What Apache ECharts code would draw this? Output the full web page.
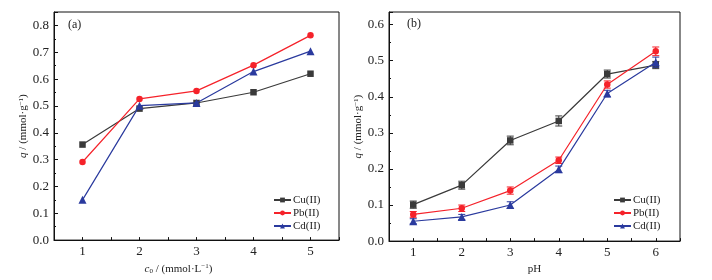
<!DOCTYPE html>
<html lang="en">
<head>
<meta charset="utf-8" />
<script src="https://cdn.jsdelivr.net/npm/echarts@6/dist/echarts.min.js"></script>
<title>q vs c0 / pH</title>
<style>
  html, body { margin: 0; padding: 0; background: #fff; }
  #main { width: 712px; height: 280px; }
</style>
</head>
<body>
<div id="main"></div>
<script>
// (a) 初始浓度
var conc = [1, 2, 3, 4, 5];
var cuA = [0.356, 0.490, 0.511, 0.551, 0.620];
var pbA = [0.291, 0.526, 0.556, 0.652, 0.763];
var cdA = [0.150, 0.501, 0.511, 0.628, 0.704];

// (b) pH
var ph = [1, 2, 3, 4, 5, 6];
var cuB = [0.101, 0.155, 0.279, 0.333, 0.463, 0.488];
var pbB = [0.074, 0.091, 0.140, 0.224, 0.434, 0.526];
var cdB = [0.055, 0.067, 0.100, 0.199, 0.409, 0.496];
// 误差
var cuErr = [0.010, 0.011, 0.012, 0.014, 0.011, 0.010];
var pbErr = [0.008, 0.009, 0.010, 0.009, 0.010, 0.012];
var cdErr = [0.007, 0.007, 0.009, 0.009, 0.009, 0.014];

var names = ['Cu(II)', 'Pb(II)', 'Cd(II)'];
var colors = ['#3a3a3a', '#f5222a', '#2a3a9e'];
var symbols = ['rect', 'circle', 'triangle'];
var font = 'Liberation Serif, Times New Roman, serif';

function pairs(xs, ys) {
  return xs.map(function (x, i) { return [x, ys[i]]; });
}
function errData(xs, ys, es) {
  return xs.map(function (x, i) { return [x, ys[i] - es[i], ys[i] + es[i]]; });
}

function xAxisOf(gi, min, max, name, rich, pad) {
  return {
    type: 'value', gridIndex: gi, min: min, max: max, interval: 0.5,
    name: name, nameLocation: 'middle', nameGap: 16,
    nameTextStyle: { fontFamily: font, fontSize: 11, color: '#222', rich: rich, padding: pad },
    axisLine: { onZero: false, lineStyle: { color: '#111', width: 1 } },
    axisTick: { inside: true, length: 3, lineStyle: { color: '#111' } },
    axisLabel: {
      fontFamily: font, fontSize: 13, color: '#222', margin: 5,
      formatter: function (v) { return Number.isInteger(v) ? String(v) : ''; }
    },
    splitLine: { show: false }
  };
}

var yRich = {
  i: { fontStyle: 'italic', fontFamily: font, fontSize: 11, color: '#222' },
  s: { fontFamily: font, fontSize: 7, color: '#222', verticalAlign: 'top', padding: [0, 0, 5, 0] }
};
var xRich = {
  i: { fontStyle: 'italic', fontFamily: font, fontSize: 11, color: '#222' },
  sub: { fontFamily: font, fontSize: 7, color: '#222', padding: [5, 0, 0, 0] },
  s: { fontFamily: font, fontSize: 7, color: '#222', padding: [0, 0, 5, 0] }
};

function yAxisOf(gi, max) {
  return {
    type: 'value', gridIndex: gi, min: 0, max: max, interval: 0.1,
    name: '{i|q} / (mmol·g{s|−1})', nameLocation: 'middle', nameGap: 23,
    nameTextStyle: { fontFamily: font, fontSize: 11, color: '#222', rich: yRich },
    axisLine: { show: true, lineStyle: { color: '#111', width: 1 } },
    axisTick: { inside: true, length: 4, lineStyle: { color: '#111' } },
    minorTick: { show: true, splitNumber: 2, length: 2, lineStyle: { color: '#111' } },
    axisLabel: {
      fontFamily: font, fontSize: 13, color: '#222', margin: 5, showMaxLabel: false,
      formatter: function (v) { return v.toFixed(1); }
    },
    splitLine: { show: false }
  };
}

function lineSeries(gi, name, k, data) {
  return {
    name: name, type: 'line', xAxisIndex: gi, yAxisIndex: gi,
    data: data, symbol: symbols[k], symbolSize: k === 2 ? 8 : 6.5,
    showAllSymbol: true,
    lineStyle: { color: colors[k], width: 1.2 },
    itemStyle: { color: colors[k] },
    z: 3 + k
  };
}

function errSeries(gi, k, data) {
  return {
    type: 'custom', xAxisIndex: gi, yAxisIndex: gi, data: data,
    silent: true, z: 2 + k,
    renderItem: function (params, api) {
      var lo = api.coord([api.value(0), api.value(1)]);
      var hi = api.coord([api.value(0), api.value(2)]);
      var c = { stroke: colors[k], lineWidth: 1 };
      return {
        type: 'group', children: [
          { type: 'line', shape: { x1: lo[0], y1: lo[1], x2: hi[0], y2: hi[1] }, style: c },
          { type: 'line', shape: { x1: lo[0] - 3.5, y1: lo[1], x2: lo[0] + 3.5, y2: lo[1] }, style: c },
          { type: 'line', shape: { x1: hi[0] - 3.5, y1: hi[1], x2: hi[0] + 3.5, y2: hi[1] }, style: c }
        ]
      };
    }
  };
}

function legendOf(left) {
  return {
    left: left, top: 189, orient: 'vertical',
    itemWidth: 17, itemHeight: 6, itemGap: 1,
    textStyle: { fontFamily: font, fontSize: 11, color: '#222', padding: [0, 0, 0, -3], lineHeight: 12 },
    data: names
  };
}

var chart = echarts.init(document.getElementById('main'), null, { renderer: 'canvas' });
chart.setOption({
  backgroundColor: '#fff',
  animation: false,
  grid: [
    { left: 54, top: 12, width: 285, height: 230, show: true, borderColor: '#111', borderWidth: 1, backgroundColor: 'transparent' },
    { left: 389, top: 12, width: 291, height: 230, show: true, borderColor: '#111', borderWidth: 1, backgroundColor: 'transparent' }
  ],
  xAxis: [
    xAxisOf(0, 0.5, 5.5, '{i|c}{sub|0} / (mmol·L{s|−1})', xRich, [0, 36, 0, 0]),
    xAxisOf(1, 0.5, 6.5, 'pH', xRich, 0)
  ],
  yAxis: [yAxisOf(0, 0.85), yAxisOf(1, 0.635)],
  legend: [legendOf(268), legendOf(608)],
  graphic: [
    { type: 'text', left: 68, top: 19, style: { text: '(a)', font: '12px ' + font, fill: '#222' } },
    { type: 'text', left: 407, top: 18, style: { text: '(b)', font: '12px ' + font, fill: '#222' } }
  ],
  series: [
    lineSeries(0, names[0], 0, pairs(conc, cuA)),
    lineSeries(0, names[1], 1, pairs(conc, pbA)),
    lineSeries(0, names[2], 2, pairs(conc, cdA)),
    errSeries(1, 0, errData(ph, cuB, cuErr)),
    errSeries(1, 1, errData(ph, pbB, pbErr)),
    errSeries(1, 2, errData(ph, cdB, cdErr)),
    lineSeries(1, names[0], 0, pairs(ph, cuB)),
    lineSeries(1, names[1], 1, pairs(ph, pbB)),
    lineSeries(1, names[2], 2, pairs(ph, cdB))
  ]
});
</script>
</body>
</html>
